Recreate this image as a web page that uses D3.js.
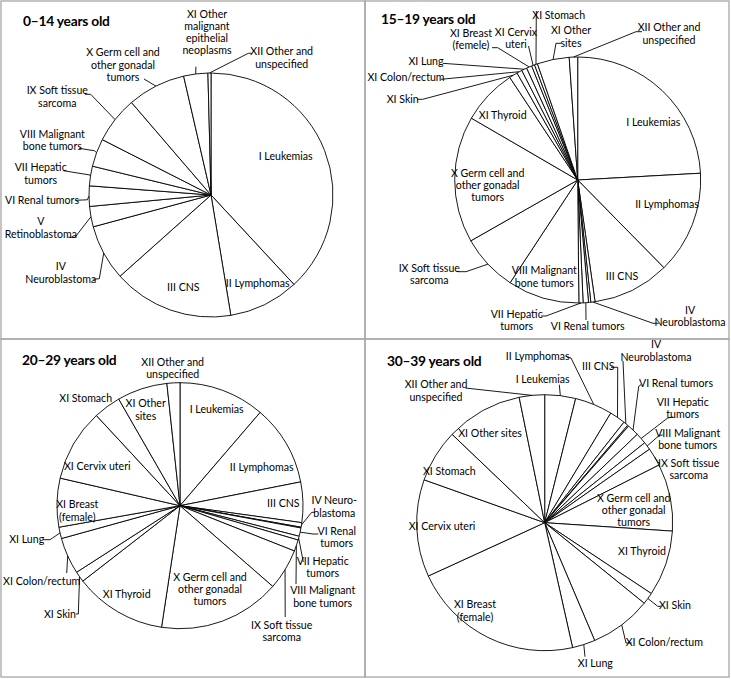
<!DOCTYPE html>
<html><head><meta charset="utf-8">
<script src="https://cdn.jsdelivr.net/npm/d3@7"></script>
<style>
body{margin:0;background:#fff}
svg{display:block}
text{font-family:Lato,"Liberation Sans",sans-serif;fill:#000}
</style>
</head><body>
<svg id="c" width="731" height="679"></svg>
<script>
// ---------- DATA ----------
const titles = ["0–14 years old", "15–19 years old", "20–29 years old", "30–39 years old"];

const cats0_14 = ["I Leukemias","II Lymphomas","III CNS","IV Neuroblastoma","V Retinoblastoma","VI Renal tumors",
  "VII Hepatic tumors","VIII Malignant bone tumors","IX Soft tissue sarcoma","X Germ cell and other gonadal tumors",
  "XI Other malignant epithelial neoplasms","XII Other and unspecified"];
const vals0_14 = [38.1, 9.3, 16.0, 7.4, 2.7, 2.7, 2.6, 3.7, 6.2, 7.7, 3.2, 0.4];
const labels0_14 = [["I Leukemias"],["II Lymphomas"],["III CNS"],["IV","Neuroblastoma"],["V","Retinoblastoma"],
  ["VI Renal tumors"],["VII Hepatic","tumors"],["VIII Malignant","bone tumors"],["IX Soft tissue","sarcoma"],
  ["X Germ cell and","other gonadal","tumors"],["XI Other","malignant","epithelial","neoplasms"],["XII Other and","unspecified"]];

const catsAYA = ["I Leukemias","II Lymphomas","III CNS","IV Neuroblastoma","V Retinoblastoma","VI Renal tumors",
  "VII Hepatic tumors","VIII Malignant bone tumors","IX Soft tissue sarcoma","X Germ cell and other gonadal tumors",
  "XI Thyroid","XI Skin","XI Colon/rectum","XI Lung","XI Breast (female)","XI Cervix uteri","XI Stomach",
  "XI Other sites","XII Other and unspecified"];

const vals15_19 = [24.1, 13.5, 10.1, 0.55, 0.3, 0.7, 0.55, 9.4, 7.5, 16.6, 7.3, 1.1, 0.7, 0.7, 0.7, 0.4, 0.4, 4.2, 1.1];
const labels15_19 = [["I Leukemias"],["II Lymphomas"],["III CNS"],["IV","Neuroblastoma"],null,["VI Renal tumors"],
  ["VII Hepatic","tumors"],["VIII Malignant","bone tumors"],["IX Soft tissue","sarcoma"],
  ["X Germ cell and","other gonadal","tumors"],["XI Thyroid"],["XI Skin"],["XI Colon/rectum"],["XI Lung"],
  ["XI Breast","(femele)"],["XI Cervix","uteri"],["XI Stomach"],["XI Other","sites"],["XII Other and","unspecified"]];

const vals20_29 = [11.3, 10.6, 5.3, 0.6, 0.1, 1.1, 0.5, 1.5, 5.4, 16.0, 12.1, 1.4, 4.8, 1.5, 6.4, 9.5, 3.6, 6.6, 1.7];
const labels20_29 = [["I Leukemias"],["II Lymphomas"],["III CNS"],["IV Neuro-","blastoma"],null,["VI Renal","tumors"],
  ["VII Hepatic","tumors"],["VIII Malignant","bone tumors"],["IX Soft tissue","sarcoma"],
  ["X Germ cell and","other gonadal","tumors"],["XI Thyroid"],["XI Skin"],["XI Colon/rectum"],["XI Lung"],
  ["XI Breast","(female)"],["XI Cervix uteri"],["XI Stomach"],["XI Other","sites"],["XII Other and","unspecified"]];

const vals30_39 = [3.9, 4.75, 2.0, 0.6, 0.15, 1.5, 1.4, 1.0, 2.3, 8.5, 8.3, 1.5, 7.8, 2.9, 21.7, 12.3, 6.7, 9.7, 3.2];
const labels30_39 = [["I Leukemias"],["II Lymphomas"],["III CNS"],["IV","Neuroblastoma"],null,["VI Renal tumors"],
  ["VII Hepatic","tumors"],["VIII Malignant","bone tumors"],["IX Soft tissue","sarcoma"],
  ["X Germ cell and","other gonadal","tumors"],["XI Thyroid"],["XI Skin"],["XI Colon/rectum"],["XI Lung"],
  ["XI Breast","(female)"],["XI Cervix uteri"],["XI Stomach"],["XI Other sites"],["XII Other and","unspecified"]];

// ---------- LAYOUT ----------
const frames = [
  {x:1, y:1, w:364, h:338, cx:211, cy:195, r:122, tx:23, ty:26},
  {x:365, y:1, w:364, h:338, cx:577.7, cy:180, r:123, tx:381, ty:24},
  {x:1, y:339, w:364, h:338, cx:180, cy:505.7, r:123, tx:22, ty:365},
  {x:365, y:339, w:364, h:338, cx:544.7, cy:522.7, r:128, tx:387, ty:366}
];
// label placement: [index, x, y(first line centre), leader bend points after the arc point]
const place0_14 = [
  [0,285.7,156,null],[1,257.7,283.3,null],[2,183.3,287.3,null],
  [3,60.8,266.7,[[99.3,278.7],[93.3,279.3]]],
  [4,40.8,221.7,[[75,237.3],[68.3,237.3]]],
  [5,42,200,[[87.3,199.8],[75.5,200.3]]],
  [6,40.7,167.7,[[90,175],[63.3,170.7]]],
  [7,52.3,134.3,[[94.3,150.7],[79,148.3]]],
  [8,57.3,90.7,[[90.7,94.3],[85,94.3]]],
  [9,123,52.7,[[144,79]]],
  [10,207,14,[[195.9,66.7]]],
  [11,281.7,51.7,[[248.3,53.3],[251.7,53.3]]]
];
const place15_19 = [
  [0,653.3,122.3,null],[1,667,204.3,null],[2,622,276,null],
  [3,690,310,[[653,323.3],[658.7,323.3]]],
  [5,587.7,326,[[586,320]]],
  [6,516.7,314.3,[[546,316],[541,316]]],
  [7,544.3,270.7,null],
  [8,429.3,268.3,[[466,271.7],[457.7,271.7]]],
  [9,487.7,173.3,null],[10,502.7,115,null],
  [11,402.7,99,[[422.7,99.3],[417,99.3]]],
  [12,406,77.3,[[441,79.3]]],
  [13,426,61,[[442.7,63.3]]],
  [14,471,33.3,[[497.7,47.7],[492,47.7]]],
  [15,516,32.3,[[528.5,46]]],
  [16,558.7,15.7,[[536.3,11]]],
  [17,571,30.7,[[556,43.3],[561,43.3]]],
  [18,669,27.7,[[636,31.7],[642,31.7]]]
];
const place20_29 = [
  [0,216.7,409.7,null],[1,261.7,467.3,null],[2,283.3,503.7,null],
  [3,334.3,500.7,[[311.7,512.3],[315,512.3]]],
  [5,336.7,531.3,[[313,534],[318.3,534]]],
  [6,322.7,561.3,[[303.3,562]]],
  [7,322.7,590.7,[[296,584]]],
  [8,281.7,625.3,[[285.2,617]]],
  [9,210,577.3,null],[10,126.7,594.7,null],
  [11,60,614,[[78.3,614],[76,614]]],
  [12,41.7,581.3,[[66.7,573]]],
  [13,26.7,539,[[50,539.7],[43,539.7]]],
  [14,77.3,504.7,null],[15,97.3,466.3,null],[16,85.7,398.7,null],
  [17,145.7,403.7,null],[18,172.7,362,null]
];
const place30_39 = [
  [0,542.7,379.7,[[559.3,384.7]]],
  [1,537.7,356.3,[[571,358],[566,356.3]]],
  [2,598.3,366.3,[[617.7,367.3],[611,367.3]]],
  [3,656,344.7,[[623,361]]],
  [5,676,383,[[638.7,386.3],[641,384.7]]],
  [6,682.7,402.3,[[667.7,418],[672.7,417]]],
  [7,687.7,433,[[659.3,435.3],[662.7,435]]],
  [8,688.7,463,[[657.7,461.7],[660,464]]],
  [9,633.7,498,null],[10,642,551.3,null],
  [11,675,605.7,[[657.7,606.3],[661,606.3]]],
  [12,664.3,642,[[626,643],[631.7,643]]],
  [13,595.3,663,[[585,656.7]]],
  [14,475,604.7,null],[15,442,526.3,null],[16,449.3,471.3,null],
  [17,490,433,null],[18,436,384.7,[[465.3,388]]]
];

const panels = [
  {title:titles[0], cats:cats0_14, vals:vals0_14, labels:labels0_14, place:place0_14, f:frames[0]},
  {title:titles[1], cats:catsAYA, vals:vals15_19, labels:labels15_19, place:place15_19, f:frames[1]},
  {title:titles[2], cats:catsAYA, vals:vals20_29, labels:labels20_29, place:place20_29, f:frames[2]},
  {title:titles[3], cats:catsAYA, vals:vals30_39, labels:labels30_39, place:place30_39, f:frames[3]}
];

// ---------- DRAW ----------
const svg = d3.select("#c");
const FS = 10.6, LH = 12.2;

panels.forEach(p => {
  const f = p.f;
  const g = svg.append("g");
  g.append("rect").attr("x", f.x).attr("y", f.y).attr("width", f.w).attr("height", f.h)
    .attr("fill", "none").attr("stroke", "#a6a6a6").attr("stroke-width", 1.3);

  g.append("text").attr("x", f.tx).attr("y", f.ty).attr("font-weight", "bold")
    .attr("font-size", 13.8).attr("letter-spacing", -0.25).text(p.title);

  const data = p.cats.map((c, i) => ({cat: c, value: p.vals[i], i}));
  const arcs = d3.pie().sort(null).value(d => d.value).startAngle(0).endAngle(2 * Math.PI)(data);
  const arc = d3.arc().innerRadius(0).outerRadius(f.r);

  const pg = g.append("g").attr("transform", `translate(${f.cx},${f.cy})`);
  pg.selectAll("path").data(arcs).join("path")
    .attr("d", arc).attr("fill", "#fff").attr("stroke", "#000").attr("stroke-width", 0.9)
    .attr("stroke-linejoin", "round");

  const lg = g.append("g");
  p.place.forEach(([i, x, y, leader]) => {
    const lines = p.labels[i];
    if (!lines) return;
    if (leader) {
      const a = arcs[i];
      const mid = (a.startAngle + a.endAngle) / 2;
      const start = [f.cx + f.r * Math.sin(mid), f.cy - f.r * Math.cos(mid)];
      lg.append("path").attr("d", d3.line()([start, ...leader]))
        .attr("fill", "none").attr("stroke", "#000").attr("stroke-width", 0.9);
    }
    const t = lg.append("text").attr("font-size", FS).attr("text-anchor", "middle");
    lines.forEach((s, k) => {
      t.append("tspan").attr("x", x).attr("y", y + k * LH).attr("dy", "0.35em").text(s);
    });
  });
});
</script>
</body></html>
